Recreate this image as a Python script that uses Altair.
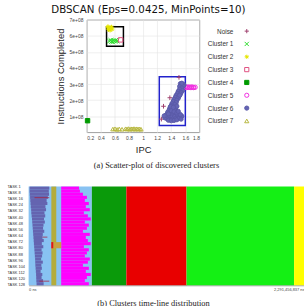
import altair as alt
import pandas as pd

# ---------------- scatter data (IPC, instructions in 1e8) ----------------
cluster_names = ["Noise", "Cluster 1", "Cluster 2", "Cluster 3",
                 "Cluster 4", "Cluster 5", "Cluster 6", "Cluster 7"]

noise_ipc = [1.51, 1.38, 1.29, 1.26]
noise_ins = [3.42, 2.15, 1.62, 0.82]

c1_ipc = [0.52, 0.55, 0.58, 0.60, 0.63, 0.54, 0.61, 0.57]
c1_ins = [5.68, 5.65, 5.70, 5.66, 5.68, 5.72, 5.72, 5.64]

c2_ipc = [0.50, 0.52, 0.54, 0.51, 0.53, 0.56, 0.55, 0.50]
c2_ins = [6.50, 6.45, 6.50, 6.38, 6.35, 6.42, 6.55, 6.58]

c3_ipc = [0.68]
c3_ins = [5.75]

c4_ipc = [0.21]
c4_ins = [0.72]

c5_ipc = [1.60, 1.62, 1.63, 1.65, 1.66, 1.68, 1.69, 1.71, 1.72, 1.74]
c5_ins = [2.80, 2.78, 2.82, 2.79, 2.81, 2.78, 2.82, 2.80, 2.78, 2.80]

c6_ipc = [1.53, 1.56, 1.58, 1.54, 1.57, 1.52, 1.55,
          1.55, 1.52, 1.56, 1.50, 1.54, 1.49, 1.53, 1.47, 1.51, 1.46, 1.50, 1.44, 1.48, 1.52,
          1.43, 1.47, 1.41, 1.45, 1.40, 1.44, 1.38, 1.42, 1.46, 1.37, 1.41, 1.45, 1.48,
          1.35, 1.39, 1.43, 1.34, 1.38, 1.42, 1.46, 1.33, 1.37, 1.41, 1.45, 1.49,
          1.34, 1.38, 1.42, 1.46, 1.50, 1.36, 1.40, 1.44, 1.48, 1.52, 1.31, 1.55,
          1.32, 1.36, 1.40, 1.44, 1.48, 1.53, 1.30, 1.54, 1.50, 1.39, 1.43]
c6_ins = [3.02, 3.00, 2.95, 2.92, 2.88, 2.85, 3.05,
          2.75, 2.68, 2.60, 2.55, 2.48, 2.42, 2.38, 2.30, 2.25, 2.18, 2.12, 2.05, 2.00, 2.30,
          1.92, 1.85, 1.78, 1.72, 1.65, 1.58, 1.50, 1.45, 1.50, 1.38, 1.32, 1.35, 1.62,
          1.25, 1.20, 1.22, 1.12, 1.05, 1.08, 1.12, 0.98, 0.92, 0.95, 0.98, 1.00,
          0.85, 0.80, 0.82, 0.85, 0.88, 0.75, 0.72, 0.74, 0.78, 0.90, 0.90, 1.00,
          1.05, 1.15, 1.35, 1.28, 1.20, 1.10, 1.02, 0.82, 1.30, 1.60, 1.55]

c7_ipc = [0.57, 0.60, 0.63, 0.66, 0.70, 0.75, 0.77, 0.79, 0.81, 0.83,
          0.85, 0.87, 0.89, 0.91, 0.93, 0.95, 0.97]
c7_ins = [0.20, 0.22, 0.18, 0.21, 0.19, 0.22, 0.20, 0.23, 0.19, 0.22,
          0.20, 0.23, 0.19, 0.22, 0.20, 0.21, 0.19]

# highlight boxes: ipc0, ipc1, ins0, ins1 (1e8)
box_black = [0.48, 0.72, 5.35, 6.57]
box_blue = [1.23, 1.60, 0.42, 3.45]

# ---------------- time-line data (ms) ----------------
T_NS = 2291456837
task_ticks = [1, 8, 16, 24, 32, 40, 48, 56, 64, 72, 80, 88, 96, 104, 112, 120, 128]

# per group of 4 tasks (32 groups)
dblue_start = [8, 8, 10, 12, 14, 16, 18, 21, 22, 25, 28, 30, 32, 34, 36, 38,
               40, 42, 44, 46, 48, 50, 52, 54, 55, 56, 58, 60, 62, 63, 64, 66]
dblue_end = [172, 168, 170, 160, 150, 156, 140, 145, 132, 138, 128, 135, 124, 120, 130, 118,
             115, 126, 110, 122, 108, 116, 112, 104, 118, 106, 110, 100, 114, 108, 120, 125]
magenta_end = [419, 427, 452, 485, 468, 501, 476, 509, 460, 493, 517, 468, 501, 485, 452, 509,
               476, 493, 517, 460, 501, 485, 468, 509, 493, 452, 501, 476, 517, 485, 468, 501]

lightblue_span = [0, 526]
olive_span = [189, 230]
magenta_start = 271
phase_spans = [(526, 813), (813, 1314), (1314, 2209), (2209, T_NS / 1e6)]
phase_colors = ["#0a9a0a", "#e80000", "#14f014", "#ffff00"]

# marks: t0, t1, first task, last task, colour
event_marks = [(49, 172, 15, 15, "#a8203c"),
               (115, 156, 66, 66, "#a8203c"),
               (189, 271, 73, 80, "#c8a040"),
               (189, 205, 73, 80, "#e01020"),
               (90, 172, 123, 123, "#a8203c")]

# ---------------- build tables ----------------
srows = []
for name, xs, ys in [("Noise", noise_ipc, noise_ins), ("Cluster 1", c1_ipc, c1_ins),
                     ("Cluster 2", c2_ipc, c2_ins), ("Cluster 3", c3_ipc, c3_ins),
                     ("Cluster 4", c4_ipc, c4_ins), ("Cluster 5", c5_ipc, c5_ins),
                     ("Cluster 6", c6_ipc, c6_ins), ("Cluster 7", c7_ipc, c7_ins)]:
    for a, b in zip(xs, ys):
        srows.append({"ipc": a, "ins": b * 1e8, "cluster": name})
scat_df = pd.DataFrame(srows)

LIGHT_BLUE = "#88c2f2"
DARK_BLUE = "#6464b0"
OLIVE = "#b4ac3c"
MAGENTA = "#ff00ff"

trows = []
def seg(t0, t1, r0, r1, c):
    trows.append({"t0": t0 * 1e6, "t1": t1 * 1e6, "r0": r0, "r1": r1, "c": c})

seg(lightblue_span[0], lightblue_span[1], 0.5, 128.5, LIGHT_BLUE)
for g in range(32):
    seg(dblue_start[g], dblue_end[g], g * 4 + 0.5, g * 4 + 4.5, DARK_BLUE)
seg(olive_span[0], olive_span[1], 0.5, 128.5, OLIVE)
for g in range(32):
    seg(magenta_start, magenta_end[g], g * 4 + 0.5, g * 4 + 4.5, MAGENTA)
for t0, t1, a, b, c in event_marks:
    seg(t0, t1, a - 0.5, b + 0.5, c)
for (t0, t1), c in zip(phase_spans, phase_colors):
    seg(t0, t1, 0.5, 128.5, c)
tl_df = pd.DataFrame(trows)

# ---------------- scatter chart ----------------
SANS = "Liberation Sans"
SERIF = "Liberation Serif"

shapes = ["M-1,0L1,0M0,-1L0,1", "M-1,-1L1,1M-1,1L1,-1",
          "M-1,0L1,0M0,-1L0,1M-0.7,-0.7L0.7,0.7M-0.7,0.7L0.7,-0.7",
          "square", "square", "circle", "circle", "triangle-up"]
strokes = ["#a0406e", "#30dc30", "#e6e600", "#e05080", "#009a00", "#f030e0", "#5a5aa8", "#b8b840"]
fills = ["transparent", "transparent", "transparent", "transparent", "#009a00",
         "transparent", "#6464b4", "transparent"]
sizes = [22, 18, 18, 18, 24, 16, 40, 16]

x_scale = alt.Scale(domain=[0.2, 1.8], nice=False, zero=False)
y_scale = alt.Scale(domain=[0, 7e8], nice=False)

axis_common = dict(labelFont=SANS, labelFontSize=5, labelColor="#444", tickSize=0, ticks=False,
                   domain=False, grid=True, gridColor="#e2e2e2", gridWidth=0.6,
                   titleFont=SANS, titleFontWeight="normal", titleColor="#222",
                   titleFontSize=9.5, labelOverlap=False)
x_axis = alt.Axis(values=[0.2, 0.4, 0.6, 0.8, 1.0, 1.2, 1.4, 1.6, 1.8], format="~g",
                  title="IPC", labelPadding=3, titlePadding=4, **axis_common)
y_axis = alt.Axis(values=[1e8, 2e8, 3e8, 4e8, 5e8, 6e8, 7e8],
                  labelExpr="(datum.value / 1e8) + 'e+08'",
                  title="Instructions Completed", labelPadding=4, titlePadding=4, **axis_common)

shape_enc = alt.Shape("cluster:N", scale=alt.Scale(domain=cluster_names, range=shapes), legend=None)
fill_enc = alt.Fill("cluster:N", scale=alt.Scale(domain=cluster_names, range=fills), legend=None)
stroke_enc = alt.Stroke("cluster:N", scale=alt.Scale(domain=cluster_names, range=strokes), legend=None)

pts = alt.Chart(scat_df).mark_point(opacity=1, strokeWidth=1).encode(
    x=alt.X("ipc:Q", scale=x_scale, axis=x_axis),
    y=alt.Y("ins:Q", scale=y_scale, axis=y_axis),
    shape=shape_enc, fill=fill_enc, stroke=stroke_enc,
    size=alt.Size("cluster:N", scale=alt.Scale(domain=cluster_names, range=sizes), legend=None),
)

def box_layer(b, color):
    d = pd.DataFrame({"ipc": [b[0]], "ipc2": [b[1]], "ins": [b[2] * 1e8], "ins2": [b[3] * 1e8]})
    return alt.Chart(d).mark_rect(fillOpacity=0, stroke=color, strokeWidth=1.5).encode(
        x=alt.X("ipc:Q", scale=x_scale, axis=x_axis), x2="ipc2:Q",
        y=alt.Y("ins:Q", scale=y_scale, axis=y_axis), y2="ins2:Q")

scatter = alt.layer(box_layer(box_black, "#000000"), box_layer(box_blue, "#2222cc"), pts).properties(
    width=114, height=114,
    view=alt.ViewBackground(stroke="#888", strokeWidth=0.8),
)

# legend drawn as a small chart: symbols through the same scales, names as axis labels
legend_df = pd.DataFrame({"cluster": cluster_names})
legend_chart = alt.Chart(legend_df).mark_point(opacity=1, strokeWidth=1, size=18).encode(
    y=alt.Y("cluster:N", scale=alt.Scale(type="point", domain=cluster_names, padding=0.885),
            axis=alt.Axis(title=None, ticks=False, domain=False, grid=False, labelPadding=11,
                          labelFont=SANS, labelFontSize=6.5, labelColor="#333")),
    shape=shape_enc, fill=fill_enc, stroke=stroke_enc,
).properties(width=6, height=114, view=alt.ViewBackground(stroke=None))

SPACER_W = 20
spacer = alt.Chart(pd.DataFrame({"s": [0]})).mark_rule(strokeOpacity=0).encode(
    x=alt.value(0), x2=alt.value(SPACER_W), y=alt.value(0)
).properties(width=SPACER_W, height=1, view=alt.ViewBackground(stroke=None))

indep = dict(shape="independent", fill="independent", stroke="independent", size="independent")
top = alt.hconcat(spacer, scatter, legend_chart, spacing=6).resolve_scale(**indep).properties(
    title=alt.TitleParams("DBSCAN (Eps=0.0425, MinPoints=10)", font="DejaVu Sans", fontSize=10.4,
                          fontWeight="normal", color="#111", offset=2, anchor="start",
                          frame="group", dx=23)
)

# ---------------- time-line chart ----------------
timeline = alt.Chart(tl_df).mark_rect().encode(
    x=alt.X("t0:Q", scale=alt.Scale(domain=[0, T_NS], nice=False, zero=False),
            axis=alt.Axis(values=[0, T_NS],
                          labelExpr="datum.value == 0 ? '0 ns' : '2,291,456,837 ns'",
                          labelFlush=True, ticks=False, tickSize=0, domain=True,
                          domainColor="#9a9a9a", grid=False, labelFont=SANS, labelFontSize=4,
                          labelColor="#444", labelPadding=2,
                          title="(b) Clusters time-line distribution", titleFont=SERIF,
                          titleFontSize=8.5, titleFontWeight="normal", titleColor="#222",
                          titleX=126, titlePadding=7)),
    x2="t1:Q",
    y=alt.Y("r0:Q", scale=alt.Scale(domain=[0.5, 128.5], reverse=True, nice=False, zero=False),
            axis=alt.Axis(values=task_ticks, labelExpr="'TASK ' + datum.value",
                          labelAlign="left", labelPadding=22, tickSize=0, ticks=False,
                          domain=False, grid=False, title=None, labelFont=SANS,
                          labelFontSize=4, labelColor="#333", labelBaseline="middle",
                          labelOverlap=False)),
    y2="r1:Q",
    color=alt.Color("c:N", scale=None),
).properties(
    width=279, height=100,
    title=alt.TitleParams("(a) Scatter-plot of discovered clusters", font=SERIF, fontSize=8.5,
                          fontWeight="normal", color="#222", anchor="middle", dx=-10, offset=16),
    view=alt.ViewBackground(stroke=None),
)

chart = alt.vconcat(top, timeline, spacing=6).resolve_scale(**indep).properties(
    padding={"left": 7, "top": 3, "right": 0, "bottom": 0}
).configure_view(stroke=None)

chart.save("out.html", embed_options={"renderer": "svg", "actions": False})
